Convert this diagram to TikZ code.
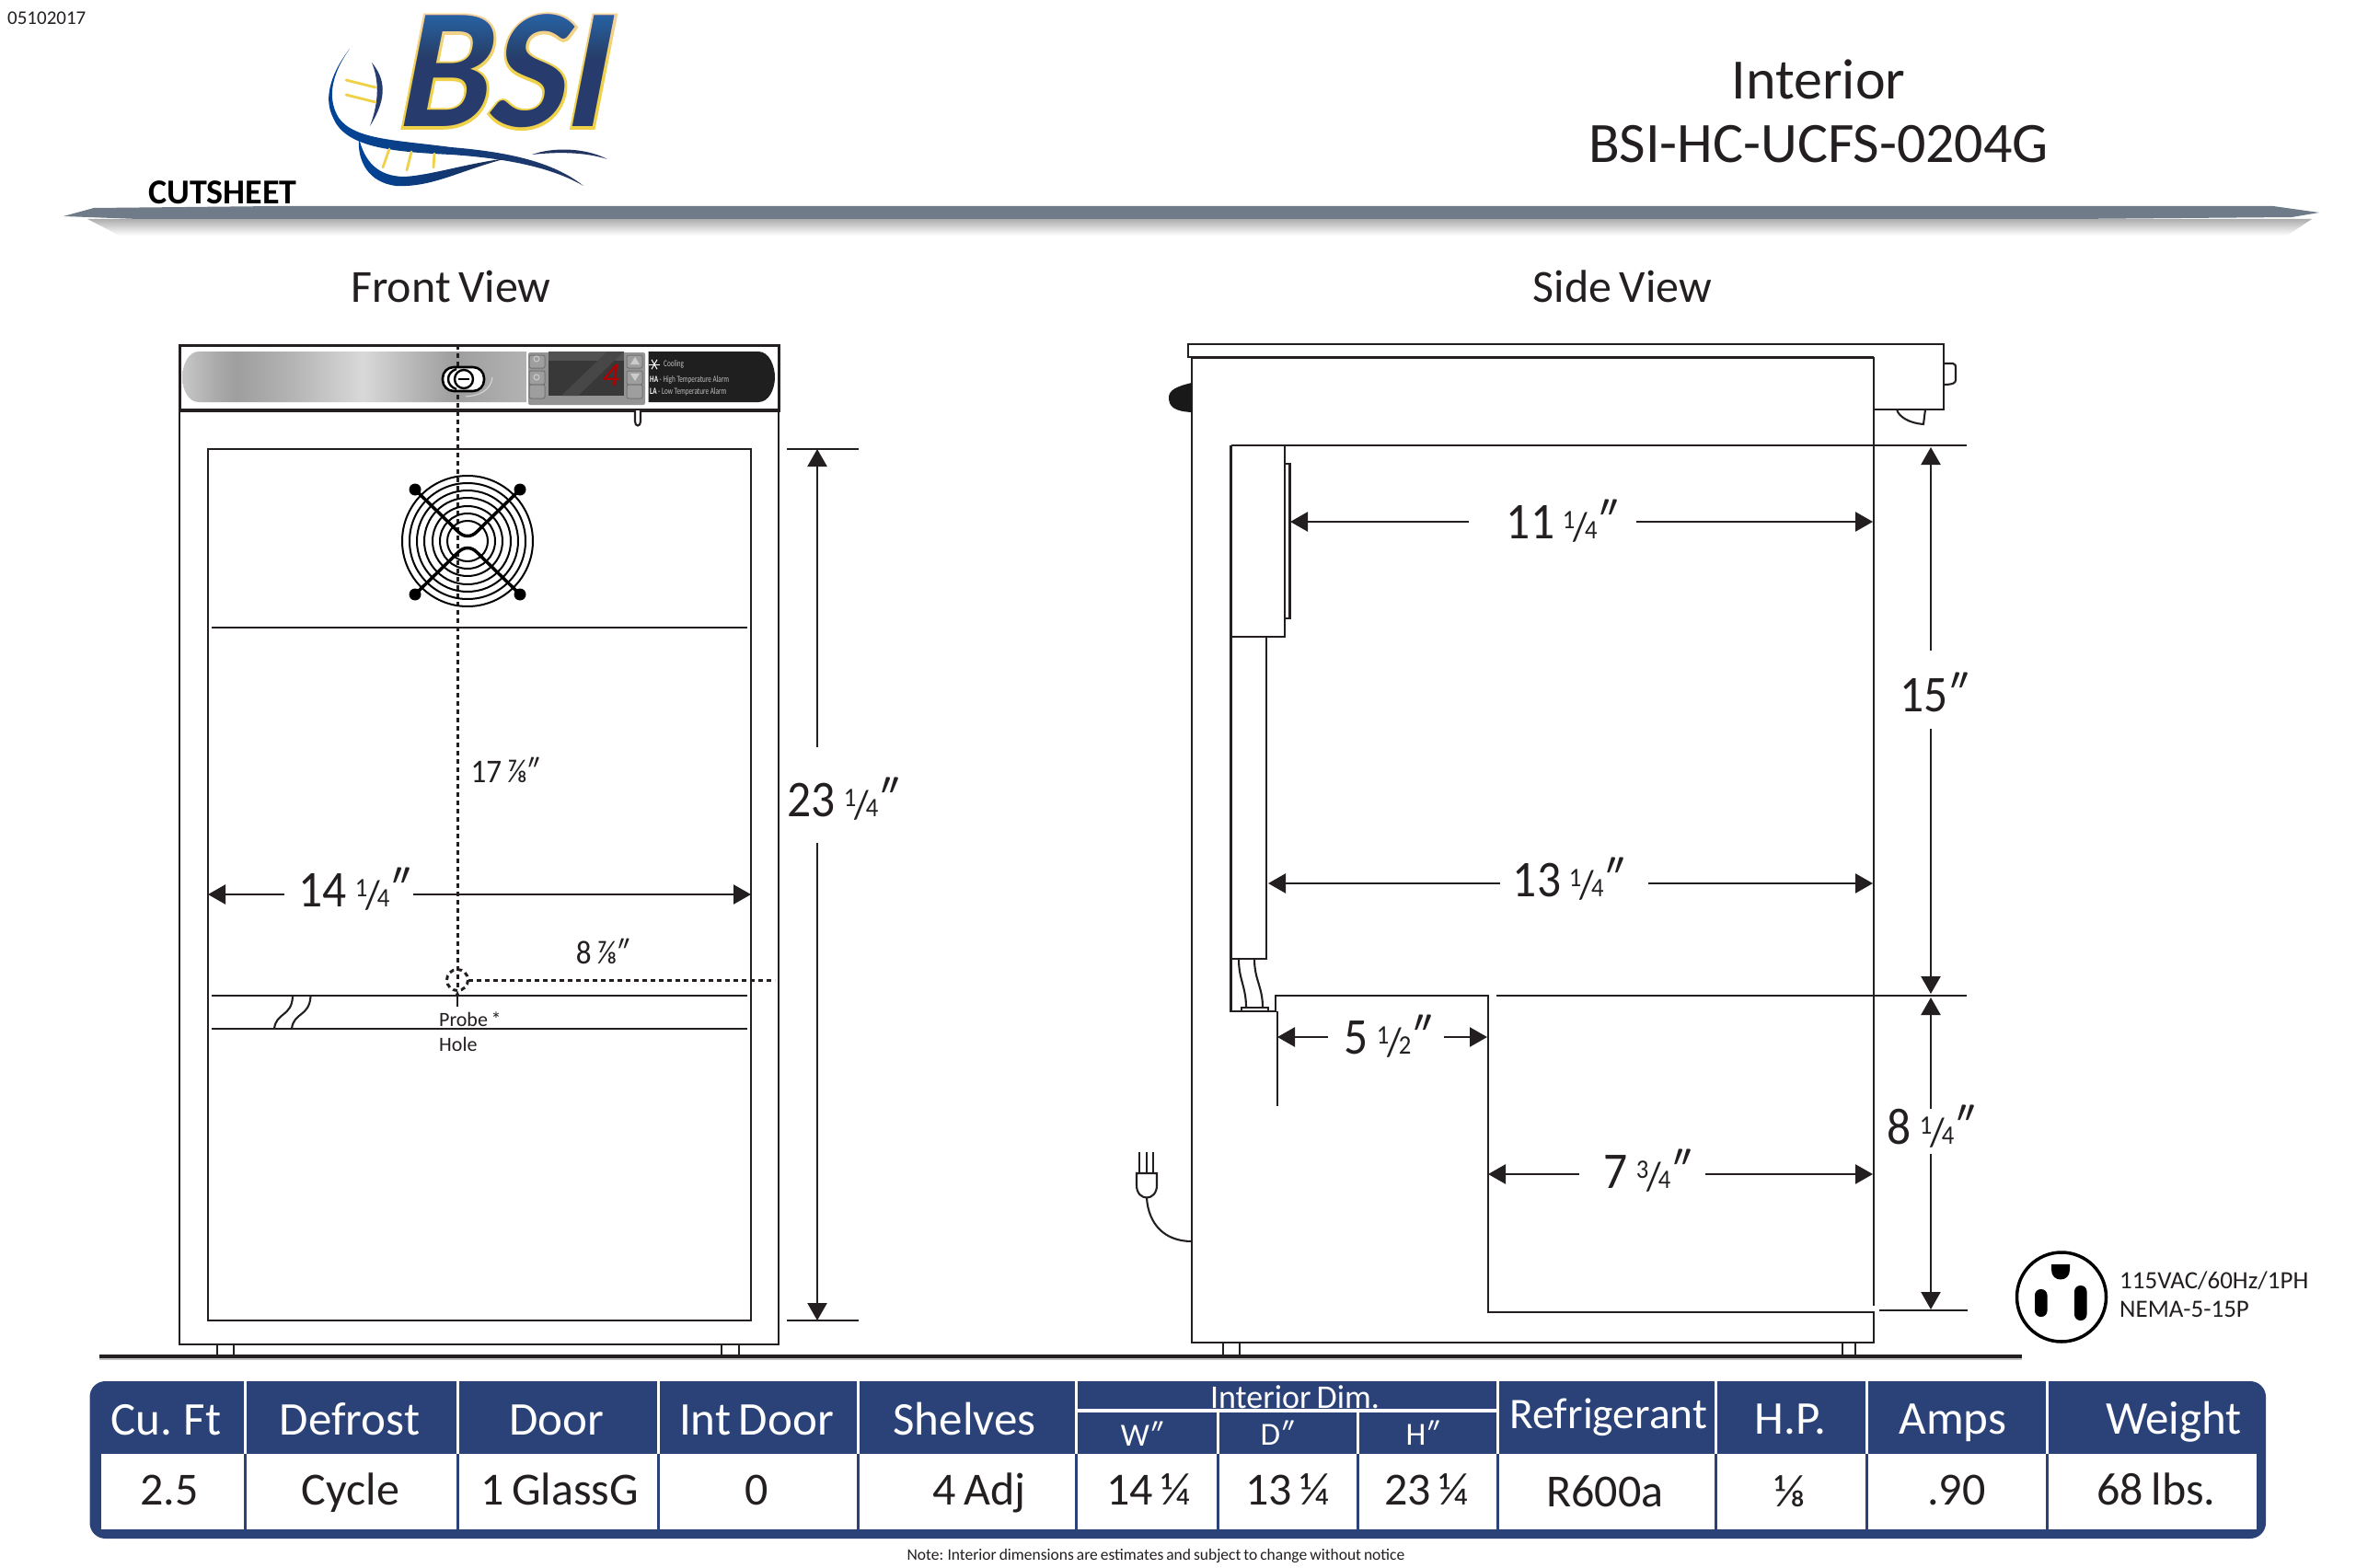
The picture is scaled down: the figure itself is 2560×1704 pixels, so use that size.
\documentclass[tikz,border=0pt]{standalone}
\usepackage{fontspec}
\setmainfont[WordSpace=0.75]{Carlito}
\newfontfamily\narrow[FakeStretch=0.92,WordSpace=0.75]{Carlito}
\newfontfamily\panelf[FakeStretch=0.72]{Carlito}
\newfontface\logogold[FakeBold=3,FakeStretch=0.95]{Carlito Bold Italic}
\newfontface\logoblue[FakeStretch=0.95]{Carlito Bold Italic}
\usetikzlibrary{arrows.meta}
\definecolor{ink}{HTML}{231F20}
\definecolor{tblue}{HTML}{2B4279}
\definecolor{gold}{HTML}{F0D24A}
\definecolor{bandc}{HTML}{6F7B88}
\newcommand{\fs}[1]{\fontsize{#1}{#1}\selectfont}
\newcommand{\frc}[2]{{\fs{29}\raisebox{11pt}{#1}\kern-2pt\raisebox{-2pt}{\fs{44}/}\kern-3pt #2}}
\newcommand{\dq}{\kern-1pt{\itshape ″}}
\pgfdeclarehorizontalshading{panelshade}{100bp}{color(0bp)=(black!22);color(25bp)=(black!22);color(29.8bp)=(black!33);color(32.8bp)=(black!38);color(40.5bp)=(black!30);color(51.3bp)=(black!15);color(58.4bp)=(black!28);color(64.4bp)=(black!38);color(75bp)=(black!30);color(100bp)=(black!30)}
\tikzset{
  wall/.style={draw=ink,line width=2.8pt,line join=miter},
  thin wall/.style={draw=ink,line width=2.1pt},
  dimline/.style={draw=ink,line width=2.4pt,-{Triangle[length=19pt,width=21pt]}},
  dashline/.style={draw=ink,line width=3pt,dash pattern=on 5pt off 4pt},
  lab/.style={inner sep=0pt,text=ink},
  dimlab/.style={lab,anchor=base,font=\narrow\fs{56}},
  small dim/.style={lab,font=\narrow\fs{36}},
  th/.style={lab,anchor=base,text=white,font=\fs{51}},
  tv/.style={lab,anchor=base,font=\fs{50}},
}
\newcommand{\hdim}[8]{%
  \coordinate (#1a) at (#3,#2); \coordinate (#1b) at (#4,#2);
  \coordinate (#1c) at (#5,#2); \coordinate (#1d) at (#6,#2);
  \node[dimlab] (#1) at (#7) {#8};
  \draw[dimline] (#1b) -- (#1a);
  \draw[dimline] (#1c) -- (#1d);
}
\newcommand{\vdim}[8]{%
  \coordinate (#1a) at (#2,#3); \coordinate (#1b) at (#2,#4);
  \coordinate (#1c) at (#2,#5); \coordinate (#1d) at (#2,#6);
  \node[dimlab] (#1) at (#7) {#8};
  \draw[dimline] (#1b) -- (#1a);
  \draw[dimline] (#1c) -- (#1d);
}
\begin{document}
\begin{tikzpicture}[x=1pt,y=-1pt]
\path[use as bounding box,fill=white] (0,0) rectangle (2560,1704);

% ---- header ----
\node[lab,font=\fs{21},anchor=west] (date) at (8,20) {05102017};
\node[lab,font=\bfseries\fs{38},text=black,anchor=west] (cut) at (161,209) {CUTSHEET};
\node[lab,font=\fs{62}] (t1) at (1976,86) {Interior};
\node[lab,font=\fs{62}] (t2) at (1976,157) {BSI-HC-UCFS-0204G};

% band and its shadow
\shade[top color=black!32,bottom color=white] (95,238) -- (2512,238) -- (2485,256) -- (130,256) -- cycle;
\fill[bandc] (69,235) -- (102,226) -- (300,224) -- (2470,224) -- (2520,231) -- (2490,236) -- (2250,238) -- (150,238) -- cycle;

% logo helix
\shade[left color=blue!55!cyan!60!black,right color=tblue!80!black]
  (380,53) .. controls (362,78) and (354,105) .. (368,128)
  .. controls (385,152) and (430,152) .. (490,160)
  .. controls (550,165) and (600,175) .. (634,202)
  .. controls (600,182) and (550,172) .. (490,168)
  .. controls (425,165) and (375,160) .. (362,128)
  .. controls (350,105) and (362,76) .. (380,53) -- cycle;
\shade[left color=tblue,right color=tblue!80!black]
  (404,68) .. controls (418,85) and (422,105) .. (402,137)
  .. controls (412,110) and (412,88) .. (404,68) -- cycle;
\shade[left color=blue!55!cyan!60!black,right color=tblue!70!black]
  (390,150) .. controls (388,175) and (400,198) .. (430,202)
  .. controls (470,204) and (500,185) .. (551,172)
  .. controls (505,178) and (470,190) .. (440,192)
  .. controls (410,192) and (396,175) .. (390,150) -- cycle;
\fill[tblue!80!black] (578,168) .. controls (600,160) and (635,160) .. (660,173)
  .. controls (635,165) and (605,165) .. (578,168) -- cycle;
\foreach \ax/\ay/\bx/\by in {376/87/408/95,376/103/408/111,423/162/416/182,447/165/442/185,472/167/471/182}{
  \draw[gold,line width=2.8pt,line cap=round] (\ax,\ay) -- (\bx,\by);
}
% logo letters
\node[lab,text=gold,font={\logogold\fs{186}},anchor=base west,xslant=.08,transform shape] (logoG) at (433,138) {BSI};
\node[lab,text=tblue!90!black,font={\logoblue\fs{186}},anchor=base west,xslant=.08,transform shape] (logoB) at (433,138) {BSI};
\shade[blend mode=lighten,top color=blue!40!cyan!65!black,bottom color=black] (430,14) rectangle (685,142);

\node[lab,font=\fs{50}] (fv) at (490,311) {Front View};
\node[lab,font=\fs{50}] (sv) at (1763,311) {Side View};

% ---- front view ----
\draw[draw=ink,line width=3pt] (195,375) rectangle (846,446);
\draw[draw=ink,line width=4pt] (195,446) -- (846,446);
\draw[wall] (195,446) -- (195,1461) -- (846,1461) -- (846,446);
\draw[wall] (226,488) rectangle (816,1435);
\draw[wall] (230,682) -- (812,682);
\draw[wall] (230,1082) -- (812,1082);
\draw[wall] (230,1118) -- (812,1118);
\draw[thin wall] (318,1083) .. controls (317,1105) and (300,1100) .. (298,1118);
\draw[thin wall] (337.5,1083) .. controls (336,1105) and (319,1100) .. (317,1118);
% feet
\draw[thin wall] (236,1461) rectangle (254,1473);
\draw[thin wall] (784,1461) rectangle (803,1473);

% control panel
\shade[shading=panelshade] (572,382) -- (216,382) .. controls (204,382) and (198,398) .. (198,410)
  .. controls (198,422) and (204,437) .. (216,437) -- (572,437) -- cycle;
\fill[black!88] (704.5,382) -- (824,382) .. controls (836,382) and (842,398) .. (842,410)
  .. controls (842,422) and (836,437) .. (824,437) -- (704.5,437) -- cycle;
\fill[black!42,rounded corners=2pt] (574,383) rectangle (701,440);
\foreach \bx in {575,681}{
  \foreach \by/\ey in {386/400,403/418,418/433}{
    \draw[black!55,line width=1pt,rounded corners=2pt,fill=black!38] (\bx,\by) rectangle ++(17,\ey-\by);
  }
}
\fill[black!78] (596,382) rectangle (678,430);
\fill[black!68] (596,382) rectangle (678,392);
\fill[black!72] (610,430) -- (660,382) -- (678,382) -- (628,430) -- cycle;
\fill[white!80!black] (690,388) -- (685,396) -- (695,396) -- cycle;
\fill[white!80!black] (690,414) -- (685,406) -- (695,406) -- cycle;
\draw[white!80!black,line width=1pt] (583,390) circle (3);
\draw[white!80!black,line width=1pt] (583,410) circle (3);
\node[lab,text=red!70!black,font=\itshape\fs{36}] (temp) at (664,408) {4};
% snowflake
\foreach \ang in {0,60,120}{\draw[white,line width=1pt] (711,396) ++(\ang:6) -- ++(\ang+180:12);}
\node[lab,text=black!25,font=\panelf\fs{10},anchor=west] (cool) at (721,396) {Cooling};
\node[lab,text=black!25,font=\panelf\fs{10},anchor=west] (ha) at (706,413) {\textcolor{white}{\bfseries HA} - High Temperature Alarm};
\node[lab,text=black!25,font=\panelf\fs{10},anchor=west] (la) at (706,426) {\textcolor{white}{\bfseries LA} - Low Temperature Alarm};
% hook
\draw[thin wall,fill=white] (690,446) -- (690,458) .. controls (690,464) and (696,464) .. (696,458) -- (696,446);

% dashed centre line, hole and knob
\coordinate (dtop) at (497,375);
\coordinate (hole) at (497,1065);
\coordinate (dend) at (842,1065);
\draw[dashline] (dtop) -- ([yshift=-12pt]hole);
\draw[dashline] (hole) circle (11.5);
\draw[dashline] ([xshift=12pt]hole) -- (dend);
\draw[ink,line width=2.6pt,-{Stealth[length=5pt,width=5pt]}] (497,1094) -- (497,1077);
\draw[draw=black,fill=white,line width=2.6pt,rounded corners=12pt] (481,399) rectangle (526,425);
\draw[draw=black,line width=2.4pt] (504,412) circle (10);
\draw[draw=black,line width=2.4pt] (496,401) .. controls (484,405) and (484,419) .. (496,423);
\draw[black,line width=2.8pt] (498,412) -- (510,412);
\draw[white!85!black,line width=1pt] (506,431) .. controls (520,430) and (533,425) .. (535,410);

% fan
\foreach \r in {71,63,55,47,38,30,22}{\draw[black,line width=2pt] (508,588) circle (\r);}
\draw[black,line width=3.5pt] (451,532) -- (498,578) .. controls (504,584) and (512,584) .. (518,578) -- (565,532);
\draw[black,line width=3.5pt] (451,646) -- (498,600) .. controls (504,594) and (512,594) .. (518,600) -- (565,646);
\foreach \bx/\by in {451/532,565/532,451/646,565/646}{\fill[black] (\bx,\by) circle (6.5);}

% front dimensions
\node[small dim] (d17) at (548,837) {17 ⅞\dq};
\node[small dim] (d8) at (654,1034) {8 ⅞\dq};
\node[lab,font=\fs{22},anchor=west] (probe) at (477,1108) {Probe *};
\node[lab,font=\fs{22},anchor=west] (holet) at (477,1135) {Hole};
\hdim{dw}{972}{226}{309}{449}{816}{384,985}{14 \frc{1}{4}\dq}
\vdim{dh}{888}{488}{812}{916}{1435}{915,887}{23 \frc{1}{4}\dq}
\coordinate (tick1a) at (855,488); \coordinate (tick1b) at (933,488);
\coordinate (tick2a) at (855,1435); \coordinate (tick2b) at (933,1435);
\draw[wall] (tick1a) -- (tick1b);
\draw[wall] (tick2a) -- (tick2b);

% ---- side view ----
\draw[wall] (1295,388) -- (1291,388) -- (1291,374) -- (2112,374) -- (2112,445) -- (2036,445);
\draw[draw=ink,line width=3pt] (1295,388) -- (2036,388);
\draw[wall] (2036,388) -- (2036,1419);
\draw[wall] (1295,388) -- (1295,1459) -- (2036,1459) -- (2036,1426) -- (1617,1426) -- (1617,1082) -- (1386,1082) -- (1386,1099) -- (1337.5,1099) -- (1337.5,484);
\draw[wall] (1388,1099) -- (1388,1202);
\draw[wall] (1338,484) -- (2137,484);
\draw[wall] (1626,1082) -- (2137,1082);
\draw[wall] (2042,1424) -- (2138,1424);
\draw[wall] (1338,692) -- (1396,692) -- (1396,484);
\draw[thin wall] (1396,504) -- (1401.5,504) -- (1401.5,672) -- (1396,672);
\draw[wall] (1376,692) -- (1376,1042) -- (1338,1042);
\draw[thin wall] (1346,1042) .. controls (1346,1065) and (1354,1072) .. (1354,1095);
\draw[thin wall] (1363,1042) .. controls (1363,1065) and (1372,1072) .. (1372,1095);
\draw[thin wall] (1349,1099) -- (1349,1095) -- (1378,1095) -- (1378,1099);
% knob on left
\fill[black!90] (1295,416) .. controls (1278,420) and (1270,424) .. (1270,432)
  .. controls (1270,442) and (1276,447) .. (1295,448) -- cycle;
% right-hand details
\draw[thin wall] (2112,395) -- (2122,395) .. controls (2125,395) and (2125,398) .. (2125,400) -- (2125,413) .. controls (2125,416) and (2122,418) .. (2112,418);
\draw[thin wall] (2061,445) .. controls (2063,453) and (2075,460) .. (2090,461) -- (2092,445);
% feet
\draw[thin wall] (1329,1459) rectangle (1347,1473);
\draw[thin wall] (2002,1459) rectangle (2016,1473);
% plug
\draw[thin wall] (1238,1252) -- (1238,1275);
\draw[thin wall] (1246,1252) -- (1246,1275);
\draw[thin wall] (1253,1252) -- (1253,1275);
\draw[thin wall,fill=white] (1235,1275) -- (1257,1275) -- (1257,1288) .. controls (1257,1306) and (1235,1306) .. (1235,1288) -- cycle;
\coordinate (plugcord) at (1246,1302);
\coordinate (cordend) at (1295,1349);
\draw[thin wall] (plugcord) .. controls (1248,1330) and (1265,1349) .. (cordend);

% side dimensions
\hdim{s11}{567}{1402}{1596}{1778}{2035}{1696,585}{11 \frc{1}{4}\dq}
\hdim{s13}{960}{1378}{1630}{1791}{2035}{1703,974}{13 \frc{1}{4}\dq}
\hdim{s5}{1127}{1388}{1443}{1569}{1616}{1507,1145}{5 \frc{1}{2}\dq}
\hdim{s7}{1276}{1617}{1716}{1853}{2035}{1789,1291}{7 \frc{3}{4}\dq}
\vdim{s15}{2098}{486}{707}{792}{1080}{2100,773}{15\dq}
\vdim{s8}{2098}{1084}{1205}{1254}{1423}{2097,1243}{8 \frc{1}{4}\dq}

% ground line
\fill[black!25] (108,1475) rectangle (2197,1478);
\draw[draw=ink,line width=4pt] (108,1473.5) -- (2197,1473.5);

% NEMA symbol
\draw[black,line width=3.5pt] (2240,1409.5) circle (48.5);
\fill[black] (2229,1374) -- (2249,1374) -- (2249,1380) .. controls (2249,1394) and (2229,1394) .. (2229,1380) -- cycle;
\fill[black,rounded corners=6.5pt] (2211,1401) rectangle (2224.5,1431);
\fill[black,rounded corners=6.5pt] (2254,1397) rectangle (2267.5,1435);
\node[lab,font=\fs{27},anchor=west] (volt) at (2303,1392) {115VAC/60Hz/1PH};
\node[lab,font=\fs{27},anchor=west] (nema) at (2303,1423) {NEMA-5-15P};

% ---- table ----
\fill[tblue,rounded corners=17pt] (97.5,1501) rectangle (2462,1672);
\foreach \a/\b in {108/266,266/497,497/715,715/932,932/1169,1169/1323,1323/1475,1475/1627,1627/1864,1864/2028,2028/2224,2224/2453.5}{
  \fill[white] (\a+1.5,1580) rectangle (\b-1.5,1662);
}
\foreach \xx in {266,497,715,932,1169,1627,1864,2028,2224}{\draw[white,line width=3pt] (\xx,1501) -- (\xx,1580);}
\foreach \xx in {1323,1475}{\draw[white,line width=3pt] (\xx,1533) -- (\xx,1580);}
\draw[white,line width=4pt] (1169,1533) -- (1627,1533);
\node[th] (h1) at (180.5,1559) {Cu. Ft};
\node[th] (h2) at (380,1559) {Defrost};
\node[th] (h3) at (605,1559) {Door};
\node[th] (h4) at (822,1559) {Int Door};
\node[th] (h5) at (1048,1559) {Shelves};
\node[th,font=\fs{36}] (h6) at (1407,1530) {Interior Dim.};
\node[th,font=\fs{35}] (h7) at (1240,1571) {W\dq};
\node[th,font=\fs{35}] (h8) at (1387,1570) {D\dq};
\node[th,font=\fs{35}] (h9) at (1545,1570) {H\dq};
\node[th,font=\fs{47.5}] (h10) at (1748,1552) {Refrigerant};
\node[th] (h11) at (1945.6,1558) {H.P.};
\node[th] (h12) at (2122,1558) {Amps};
\node[th] (h13) at (2362,1558) {Weight};
\node[tv] (v1) at (184,1635) {2.5};
\node[tv] (v2) at (381,1635) {Cycle};
\node[tv] (v3) at (608,1635) {1 GlassG};
\node[tv] (v4) at (822,1635) {0};
\node[tv] (v5) at (1064,1635) {4 Adj};
\node[tv] (v6) at (1248,1635) {14 ¼};
\node[tv] (v7) at (1398.5,1635) {13 ¼};
\node[tv] (v8) at (1550,1635) {23 ¼};
\node[tv] (v9) at (1744,1637) {R600a};
\node[tv] (v10) at (1945.6,1637) {⅛};
\node[tv] (v11) at (2126,1635) {.90};
\node[tv] (v12) at (2343,1635) {68 lbs.};
\node[lab,font=\fs{17.5}] (note) at (1256,1691) {Note: Interior dimensions are estimates and subject to change without notice};
\end{tikzpicture}
\end{document}
